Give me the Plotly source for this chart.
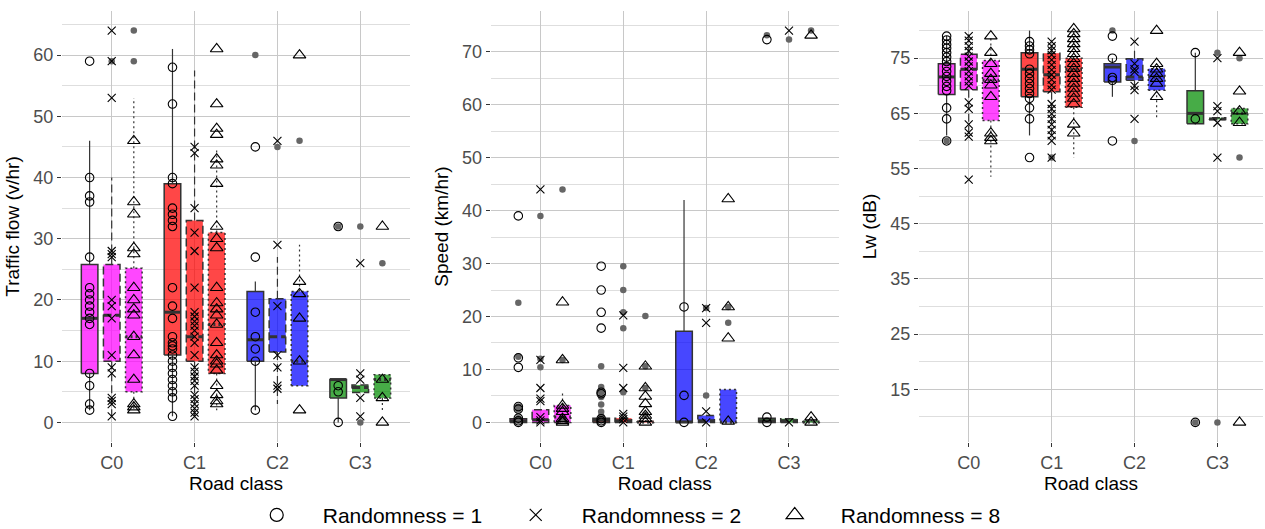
import plotly.graph_objects as go

classes = ["C0", "C1", "C2", "C3"]
rand_labels = ["Randomness = 1", "Randomness = 2", "Randomness = 8"]
class_colors = ["rgba(255,0,255,0.72)", "rgba(255,0,0,0.72)",
                "rgba(0,0,255,0.72)", "rgba(0,140,0,0.72)"]

# ---------- Traffic flow (v/hr) ----------
# box stats per class: [lower whisker, q1, median, q3, upper whisker]
flow_box_r1 = [[2, 8, 17, 25.8, 46], [1, 11, 18, 39, 61], [2, 10, 13.5, 21.4, 23], [0, 4, 7, 7, 7]]
flow_box_r2 = [[1, 10, 17.5, 25.8, 40], [1, 10, 14, 33, 57.5], [3, 11.5, 14, 20.2, 27], [4.9, 4.9, 5.7, 6.1, 6.1]]
flow_box_r3 = [[2, 5, 14, 25.2, 53], [2, 8, 16, 31, 44.5], [6, 6, 10, 21.4, 29], [2, 4, 7, 7.8, 7.8]]
flow_pts_r1 = [[59, 40, 37, 36, 27, 22, 21, 20, 19, 18, 17, 16, 8, 6, 3, 2],
               [58, 52, 40, 39, 35, 34, 33, 32, 22, 19, 17, 14, 13, 12.5, 12, 11, 10, 9, 8, 7, 6, 5, 4, 1],
               [45, 27, 18, 14, 12, 10, 2],
               [32, 6, 5, 0]]
flow_pts_r2 = [[64, 59, 53, 28, 27.5, 27, 20, 19, 17, 11, 9, 8, 4, 3.5, 3, 1],
               [45, 44, 35, 31, 28, 22, 18, 17.3, 16.5, 15.8, 15, 14, 13, 11, 9, 8.3, 7.5, 6.8, 6, 4.5, 3.8, 3, 2.3, 1.6, 1],
               [46, 29, 19, 11, 9, 6, 5.5],
               [26, 8, 7, 4, 1]]
flow_pts_r3 = [[46, 36, 34, 28.5, 27.5, 22, 20, 18.5, 17.5, 14, 11, 7, 3, 2.5, 2],
               [61, 52, 48, 47, 43, 42, 39, 32, 30, 28.5, 22, 19.5, 18.5, 17.5, 16, 13, 11, 10, 9.5, 8.5, 6, 4.5, 3.5, 3],
               [60, 23, 21, 17, 10, 2],
               [32, 7, 4, 0]]
flow_out_r1 = [[], [], [60], [32]]
flow_out_r2 = [[59], [], [45], [32, 0]]
flow_out_r3 = [[64, 59], [], [46], [26]]

# ---------- Speed (km/hr) ----------
speed_box_r1 = [[0, 0, 0.3, 0.7, 0.7], [0, 0, 0.4, 0.8, 0.8], [0, 0, 0.1, 17.2, 42], [0, 0, 0.3, 0.8, 0.8]]
speed_box_r2 = [[0, 0, 0.5, 2.4, 2.4], [0, 0, 0.3, 0.8, 0.8], [0, 0, 0.3, 1.3, 1.3], [0, 0, 0.3, 0.7, 0.7]]
speed_box_r3 = [[0, 0, 1, 3.2, 5.7], [0, 0, 0.1, 0.3, 0.3], [0, 0, 0.1, 6.2, 6.2], [0, 0, 0.1, 0.3, 0.3]]
speed_pts_r1 = [[39, 12.2, 10.4, 3, 2.5, 0.8, 0.3, 0],
                [29.5, 25, 20.8, 17.8, 5.7, 5.4, 0.7, 0.3, 0],
                [21.8, 5.1, 0],
                [72.3, 1, 0]]
speed_pts_r2 = [[44, 11.8, 6.5, 4.5, 4, 1, 0.4, 0],
                [20.2, 10.3, 6.5, 1.6, 1.1, 0.6, 0],
                [21.6, 18.8, 2.1, 0],
                [74, 0]]
speed_pts_r3 = [[22.7, 11.8, 3.2, 2.6, 2, 0.7, 0.3, 0],
                [10.6, 6.5, 4.9, 3.5, 2, 1.3, 0.7, 0],
                [42.2, 21.8, 15.9, 0.2],
                [73.1, 1, 0]]
speed_out_r1 = [[22.6, 12.4, 3, 2.5, 0.8, 0.3], [10.6, 6.7, 6.1, 5.7, 4.8, 3.4, 2, 1.2], [], [73.1]]
speed_out_r2 = [[39, 12, 10.4], [29.5, 25, 20.8, 17.8, 5.7], [21.6, 5.1], [72.3]]
speed_out_r3 = [[44, 11.8, 0.5], [20.1, 10.6, 6.5, 1.5], [21.8, 18.8], [74]]

# ---------- Lw (dB) ----------
lw_box_r1 = [[61, 68.4, 71.6, 74, 79], [61, 68, 73, 76, 80], [68, 70.7, 73.4, 74, 75], [63, 63.1, 65, 69.1, 76]]
lw_box_r2 = [[61, 69.3, 73, 75.7, 79.5], [60.5, 68.9, 72, 75.9, 78.2], [69, 71, 71.6, 74.9, 77], [63.9, 63.9, 64, 64.2, 64.2]]
lw_box_r3 = [[53.5, 63.7, 71, 74.6, 79], [57, 66.1, 73, 75, 80.3], [64, 69.2, 71.6, 73.1, 74], [63.1, 63.1, 65, 65.9, 65.9]]
lw_pts_r1 = [[79, 78.3, 77.5, 76.8, 76, 75.2, 74.4, 73.5, 72.6, 71.7, 70.8, 69.9, 69.1, 66, 64, 60],
             [78, 77.2, 76.5, 75.8, 73, 72.2, 71.3, 70.4, 69.5, 68.6, 67.7, 66, 64, 57],
             [79, 75, 71.5, 71, 60],
             [76, 64, 9]]
lw_pts_r2 = [[79, 78.2, 77.2, 76.3, 75.3, 74.4, 73.5, 72.6, 71.7, 70.8, 70, 67, 65.8, 63, 61.5, 60.8, 53],
             [78, 77.2, 76.4, 75.6, 74.7, 73.8, 72.9, 72, 71.1, 70.1, 69.3, 66.7, 65.8, 64.9, 64, 63, 62, 61, 60, 57],
             [78, 74, 73, 72.5, 70, 69.2, 64],
             [75, 66.3, 65.4, 63.3, 57]]
lw_pts_r3 = [[79, 76, 74, 72.2, 71.1, 70.1, 68, 61.4, 60.6, 60],
             [80.3, 79.4, 78.5, 77.6, 76.7, 75.8, 74.9, 74, 73.1, 72.2, 71.3, 70.4, 69.5, 68.6, 67.7, 66.7, 63, 61.4],
             [80, 74, 73, 72.2, 71.3, 70.4, 68],
             [76, 69, 65.4, 63.3, 9]]
lw_out_r1 = [[60], [], [80], [9]]
lw_out_r2 = [[], [57], [60], [76, 9]]
lw_out_r3 = [[], [], [], [75, 57]]

panels = [
    dict(title="Traffic flow (v/hr)", boxes=[flow_box_r1, flow_box_r2, flow_box_r3],
         pts=[flow_pts_r1, flow_pts_r2, flow_pts_r3], outs=[flow_out_r1, flow_out_r2, flow_out_r3],
         yrange=[-3.2, 67.2], major=[0, 10, 20, 30, 40, 50, 60], minor=[5, 15, 25, 35, 45, 55, 65]),
    dict(title="Speed (km/hr)", boxes=[speed_box_r1, speed_box_r2, speed_box_r3],
         pts=[speed_pts_r1, speed_pts_r2, speed_pts_r3], outs=[speed_out_r1, speed_out_r2, speed_out_r3],
         yrange=[-3.7, 77.7], major=[0, 10, 20, 30, 40, 50, 60, 70], minor=[5, 15, 25, 35, 45, 55, 65, 75]),
    dict(title="Lw (dB)", boxes=[lw_box_r1, lw_box_r2, lw_box_r3],
         pts=[lw_pts_r1, lw_pts_r2, lw_pts_r3], outs=[lw_out_r1, lw_out_r2, lw_out_r3],
         yrange=[5.45, 83.55], major=[15, 25, 35, 45, 55, 65, 75], minor=[10, 20, 30, 40, 50, 60, 70, 80]),
]

offsets = [-0.8 / 3, 0.0, 0.8 / 3]
half_w = 0.1
dashes = ["solid", "8px,4px", "2px,3px"]
symbols = ["circle-open", "x-thin-open", "triangle-up-open"]
sizes = [8.5, 8, 11]
edge = "#333333"

W, H = 1265, 529
ml, mr, mt, mb = 62, 2, 11, 87
pw = W - ml - mr
px_domains = [(62, 410), (490.7, 838.7), (919, 1263)]
x_ranges = [[-0.6, 3.6], [-0.6, 3.6], [-0.6, 3.55]]

fig = go.Figure()

for p, panel in enumerate(panels):
    xa = "x" if p == 0 else f"x{p+1}"
    ya = "y" if p == 0 else f"y{p+1}"
    # box bodies
    for k in range(3):
        for ci in range(len(classes)):
            lo, q1, med, q3, hi = panel["boxes"][k][ci]
            xc = ci + offsets[k]
            fig.add_trace(go.Scatter(
                x=[xc - half_w, xc + half_w, xc + half_w, xc - half_w, xc - half_w],
                y=[q1, q1, q3, q3, q1], mode="lines", fill="toself",
                fillcolor=class_colors[ci],
                line=dict(color=edge, width=1.5, dash=dashes[k]),
                xaxis=xa, yaxis=ya, showlegend=False, hoverinfo="skip"))
        # whiskers and medians
        wx, wy, mx, my = [], [], [], []
        for ci in range(len(classes)):
            lo, q1, med, q3, hi = panel["boxes"][k][ci]
            xc = ci + offsets[k]
            wx += [xc, xc, None, xc, xc, None]
            wy += [q3, hi, None, q1, lo, None]
            mx += [xc - half_w, xc + half_w, None]
            my += [med, med, None]
        fig.add_trace(go.Scatter(x=wx, y=wy, mode="lines",
                                 line=dict(color=edge, width=1.2, dash=dashes[k]),
                                 xaxis=xa, yaxis=ya, showlegend=False, hoverinfo="skip"))
        fig.add_trace(go.Scatter(x=mx, y=my, mode="lines",
                                 line=dict(color=edge, width=3, dash=dashes[k]),
                                 xaxis=xa, yaxis=ya, showlegend=False, hoverinfo="skip"))
    # grey outlier dots
    gx, gy = [], []
    for k in range(3):
        for ci in range(len(classes)):
            for v in panel["outs"][k][ci]:
                gx.append(ci + offsets[k])
                gy.append(v)
    fig.add_trace(go.Scatter(x=gx, y=gy, mode="markers",
                             marker=dict(symbol="circle", size=6.5, color="#666666"),
                             xaxis=xa, yaxis=ya, showlegend=False, hoverinfo="skip"))
    # raw points
    for k in range(3):
        px_, py_ = [], []
        for ci in range(len(classes)):
            for v in panel["pts"][k][ci]:
                px_.append(ci + offsets[k])
                py_.append(v)
        fig.add_trace(go.Scatter(x=px_, y=py_, mode="markers",
                                 marker=dict(symbol=symbols[k], size=sizes[k], color="black",
                                             line=dict(color="black", width=1.1)),
                                 xaxis=xa, yaxis=ya, showlegend=False, hoverinfo="skip"))

# legend entries
for k in range(3):
    fig.add_trace(go.Scatter(x=[None], y=[None], mode="markers", name=rand_labels[k],
                             marker=dict(symbol=symbols[k], size=[13, 12, 15][k], color="black",
                                         line=dict(color="black", width=1.2)),
                             showlegend=True))

font_family = "Liberation Sans, Arial, sans-serif"
layout = dict(
    width=W, height=H,
    margin=dict(l=ml, r=mr, t=mt, b=mb, autoexpand=False),
    plot_bgcolor="white", paper_bgcolor="white",
    font=dict(family=font_family, color="black"),
    legend=dict(orientation="h", x=0.4895, xanchor="center", xref="container",
                y=0.026, yanchor="middle", yref="container",
                font=dict(size=21, color="black"), itemwidth=82, entrywidth=162,
                bgcolor="rgba(0,0,0,0)"),
)
for p, panel in enumerate(panels):
    d0, d1 = px_domains[p]
    xkey = "xaxis" if p == 0 else f"xaxis{p+1}"
    ykey = "yaxis" if p == 0 else f"yaxis{p+1}"
    xa = "x" if p == 0 else f"x{p+1}"
    ya = "y" if p == 0 else f"y{p+1}"
    layout[xkey] = dict(
        domain=[(d0 - ml) / pw, (d1 - ml) / pw], anchor=ya, range=x_ranges[p],
        tickmode="array", tickvals=[0, 1, 2, 3], ticktext=classes,
        showgrid=True, gridcolor="#C8C8C8", gridwidth=1, zeroline=False, showline=False,
        ticks="outside", ticklen=4, tickcolor="#333333", tickwidth=1,
        tickfont=dict(size=18, color="#4D4D4D", family=font_family),
        title=dict(text="Road class", font=dict(size=19, color="black"), standoff=2),
        fixedrange=True)
    layout[ykey] = dict(
        domain=[0, 1], anchor=xa, range=panel["yrange"],
        tickmode="array", tickvals=panel["major"],
        showgrid=True, gridcolor="#C8C8C8", gridwidth=1, zeroline=False, showline=False,
        ticks="outside", ticklen=4, tickcolor="#333333", tickwidth=1,
        tickfont=dict(size=18, color="#4D4D4D", family=font_family),
        minor=dict(tickmode="array", tickvals=panel["minor"], showgrid=True,
                   gridcolor="#DEDEDE", gridwidth=1, ticks=""),
        title=dict(text=panel["title"], font=dict(size=19, color="black"), standoff=8),
        fixedrange=True)

fig.update_layout(**layout)
fig.write_html("out.html")
